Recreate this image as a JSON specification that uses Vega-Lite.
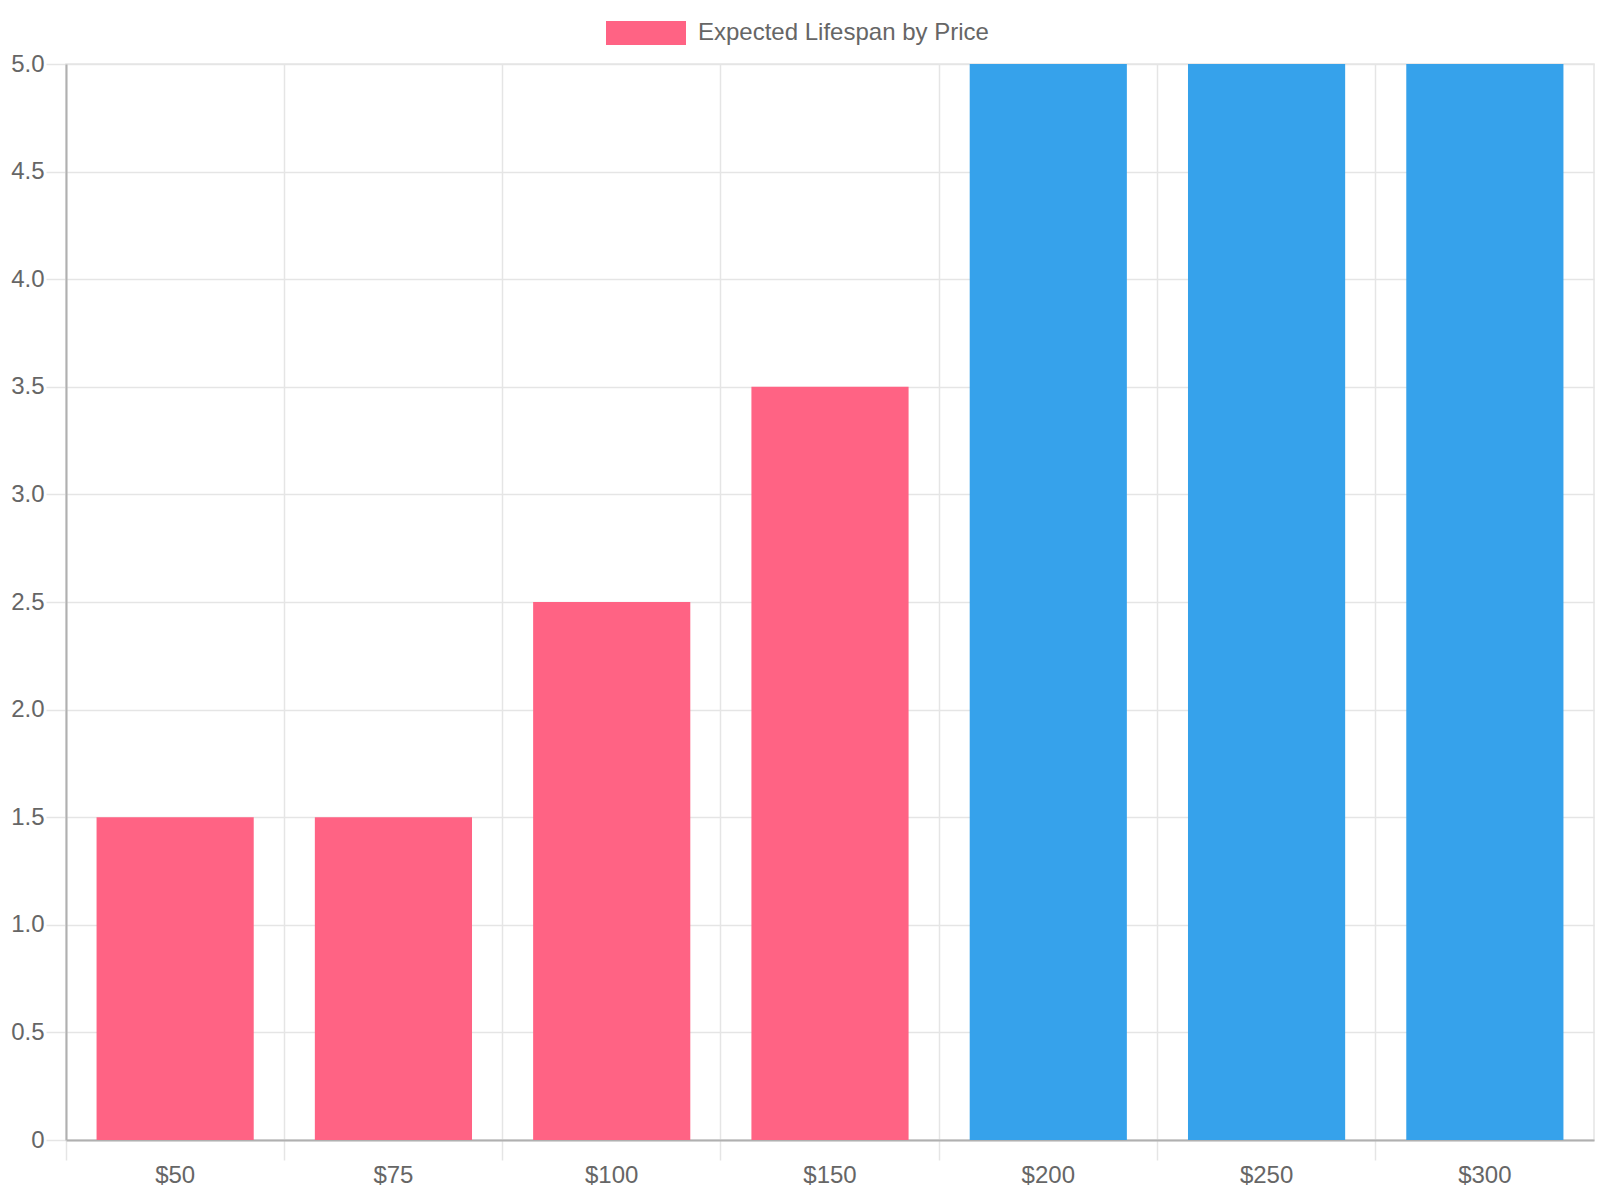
{
  "$schema": "https://vega.github.io/schema/vega-lite/v6.json",
  "autosize": "none",
  "width": 1528,
  "height": 1076,
  "padding": {"left": 66, "top": 64, "right": 6, "bottom": 60},
  "background": "white",
  "config": {
    "font": "Liberation Sans",
    "view": {"stroke": "#e5e5e5", "strokeWidth": 1.5},
    "axis": {
      "labelFont": "Liberation Sans",
      "labelFontSize": 24,
      "labelColor": "#666666",
      "gridColor": "#e5e5e5",
      "gridWidth": 1.5,
      "tickColor": "#e5e5e5",
      "tickWidth": 1.5,
      "tickSize": 20,
      "domainColor": "#b0b0b0",
      "domainWidth": 2,
      "title": null
    }
  },
  "data": {
    "values": [
      {"price": "$50", "lifespan": 1.5, "dataset": "Expected Lifespan by Price", "tier": "low"},
      {"price": "$75", "lifespan": 1.5, "dataset": "Expected Lifespan by Price", "tier": "low"},
      {"price": "$100", "lifespan": 2.5, "dataset": "Expected Lifespan by Price", "tier": "low"},
      {"price": "$150", "lifespan": 3.5, "dataset": "Expected Lifespan by Price", "tier": "low"},
      {"price": "$200", "lifespan": 6, "dataset": "Expected Lifespan by Price", "tier": "high"},
      {"price": "$250", "lifespan": 7, "dataset": "Expected Lifespan by Price", "tier": "high"},
      {"price": "$300", "lifespan": 8, "dataset": "Expected Lifespan by Price", "tier": "high"}
    ]
  },
  "mark": {"type": "bar", "clip": true, "width": {"band": 0.72}},
  "encoding": {
    "x": {
      "field": "price",
      "type": "nominal",
      "sort": ["$50", "$75", "$100", "$150", "$200", "$250", "$300"],
      "scale": {"paddingInner": 0, "paddingOuter": 0},
      "axis": {"labelAngle": 0, "bandPosition": 0, "grid": true, "labelPadding": 3, "labelAlign": "center"}
    },
    "y": {
      "field": "lifespan",
      "type": "quantitative",
      "scale": {"domain": [0, 5], "nice": false},
      "axis": {
        "values": [0, 0.5, 1, 1.5, 2, 2.5, 3, 3.5, 4, 4.5, 5],
        "labelExpr": "datum.value == 0 ? '0' : format(datum.value, '.1f')",
        "labelPadding": 2
      }
    },
    "fill": {
      "condition": {"test": "datum.tier === 'high'", "value": "#36A2EB"},
      "field": "dataset",
      "type": "nominal",
      "scale": {"domain": ["Expected Lifespan by Price"], "range": ["#FF6384"]},
      "legend": {
        "title": null,
        "orient": "none",
        "legendX": 540,
        "legendY": -71,
        "symbolType": "M-1,-0.3H1V0.3H-1Z",
        "symbolSize": 6400,
        "symbolStrokeWidth": 0,
        "labelFont": "Liberation Sans",
        "labelFontSize": 24,
        "labelColor": "#666666",
        "labelOffset": 12,
        "labelLimit": 600,
        "padding": 0
      }
    }
  }
}
